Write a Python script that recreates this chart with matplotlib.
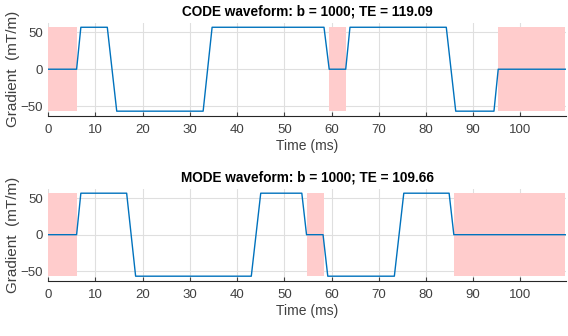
import matplotlib.pyplot as plt

plt.rcParams['font.family'] = ['Liberation Sans', 'DejaVu Sans']

# CODE waveform (time in ms, gradient in mT/m)
code_t = [0, 6.0, 6.9, 12.5, 14.5, 32.8, 34.7, 58.4, 59.5, 63.0, 63.9, 84.3, 86.3, 94.4, 95.3, 109.5]
code_g = [0, 0, 57, 57, -57, -57, 57, 57, 0, 0, 57, 57, -57, -57, 0, 0]
code_spans = [(0, 6.0), (59.5, 63.0), (95.3, 109.5)]

# MODE waveform
mode_t = [0, 6.0, 6.9, 16.6, 18.5, 43.0, 45.0, 53.7, 54.7, 58.2, 59.2, 73.3, 75.3, 84.9, 85.9, 109.5]
mode_g = [0, 0, 57, 57, -57, -57, 57, 57, 0, 0, -57, -57, 57, 57, 0, 0]
mode_spans = [(0, 6.0), (54.8, 58.3), (85.9, 109.5)]

gmax = 57
titles = ["CODE waveform: b = 1000; TE = 119.09", "MODE waveform: b = 1000; TE = 109.66"]
xticks = list(range(0, 101, 10))
yticks = [-50, 0, 50]

fig = plt.figure(figsize=(5.68, 3.36), dpi=100)
ax1 = fig.add_axes([0.085, 0.656, 0.911, 0.276])
ax2 = fig.add_axes([0.085, 0.165, 0.911, 0.273])

dark = '#262626'
for ax, t, g, spans, title in [(ax1, code_t, code_g, code_spans, titles[0]),
                               (ax2, mode_t, mode_g, mode_spans, titles[1])]:
    for a, b in spans:
        ax.fill_between([a, b], -gmax, gmax, color='#ffcccc', lw=0, zorder=1)
    ax.plot(t, g, color='#0072bd', lw=1.0, zorder=3)
    ax.set_xlim(0, 109.6)
    ax.set_ylim(-63, 63)
    ax.set_xticks(xticks)
    ax.set_yticks(yticks)
    ax.grid(True, color='#dfdfdf', lw=0.8, zorder=0)
    ax.set_axisbelow(True)
    for s in ['top', 'right', 'left']:
        ax.spines[s].set_visible(False)
    ax.spines['bottom'].set_color(dark)
    ax.tick_params(axis='x', direction='in', length=3, colors='#404040', labelsize=9.5, pad=6)
    ax.tick_params(axis='y', length=0, colors='#404040', labelsize=9.5, pad=4)
    ax.set_title(title, fontsize=9.8, fontweight='bold', pad=5)
    ax.set_xlabel('Time (ms)', fontsize=10, color='#404040', labelpad=2)
    ax.set_ylabel('Gradient  (mT/m)', fontsize=11, color='#404040')
    ax.yaxis.set_label_coords(-0.054, 0.5)

fig.savefig('out.png', dpi=100)
